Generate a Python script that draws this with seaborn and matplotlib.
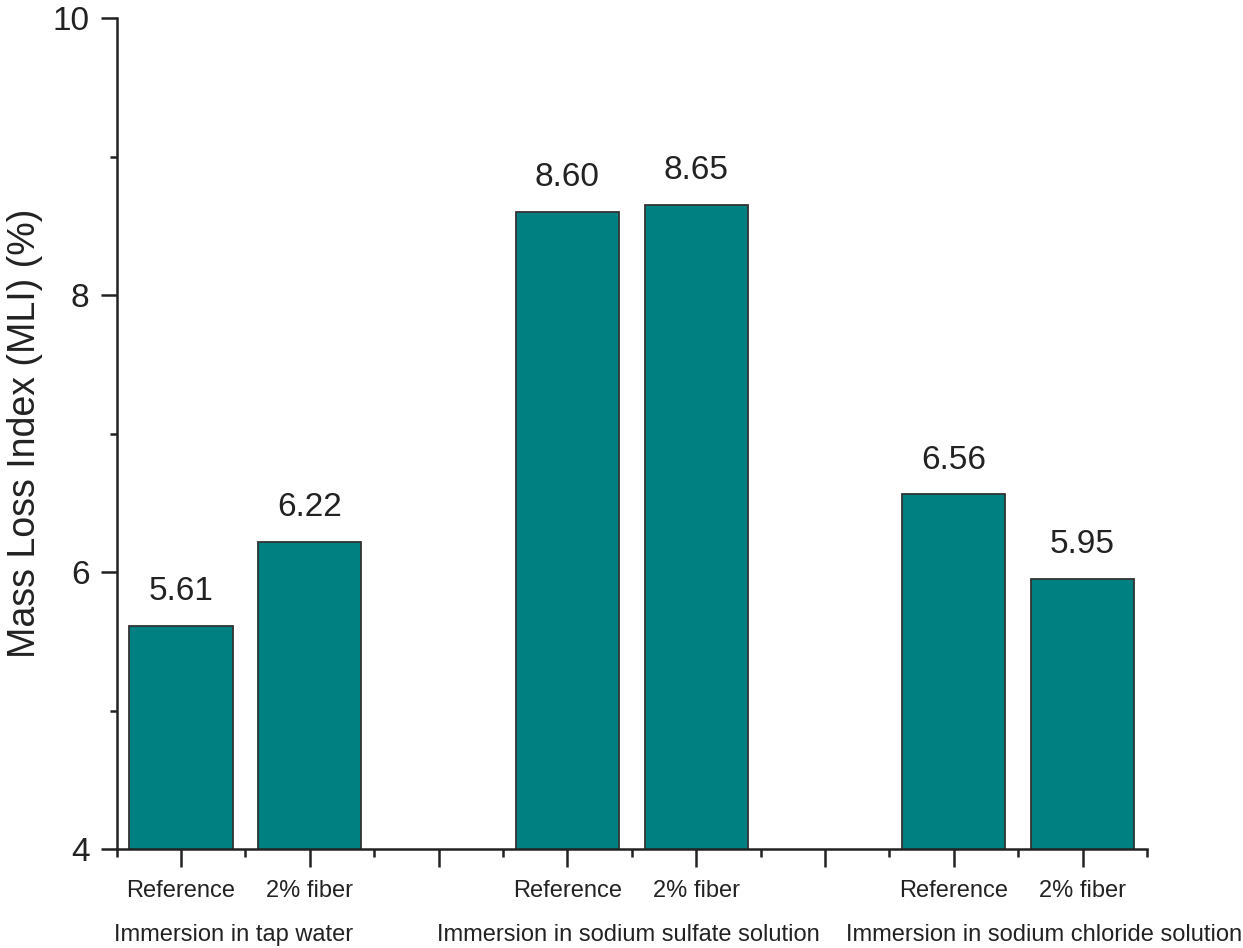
import matplotlib
matplotlib.use("Agg")
import matplotlib.pyplot as plt
import seaborn as sns
import pandas as pd
from matplotlib.ticker import MultipleLocator

groups = ["Immersion in tap water", "Immersion in sodium sulfate solution",
          "Immersion in sodium chloride solution"]
mixes = ["Reference", "2% fiber"]
mli_values = [5.61, 6.22, 8.60, 8.65, 6.56, 5.95]
value_labels = ["5.61", "6.22", "8.60", "8.65", "6.56", "5.95"]

# slot keys (with empty gap slots between groups)
slot_keys = ["g0_ref", "g0_fib", "gap0", "g1_ref", "g1_fib", "gap1", "g2_ref", "g2_fib"]
bar_keys = ["g0_ref", "g0_fib", "g1_ref", "g1_fib", "g2_ref", "g2_fib"]
slot_labels = ["Reference", "2% fiber", "", "Reference", "2% fiber", "", "Reference", "2% fiber"]

df = pd.DataFrame({"slot": bar_keys, "MLI": mli_values})

sns.set_style("white")
plt.rcParams["font.family"] = ["Liberation Sans", "DejaVu Sans"]

fig = plt.figure(figsize=(12.43, 9.48), dpi=100)
ax = fig.add_axes([0.0938, 0.1044, 0.829, 0.8766])

sns.barplot(data=df, x="slot", y="MLI", order=slot_keys, color="#008080",
            saturation=1, width=0.8, edgecolor="#333333", linewidth=1.3, ax=ax)

ax.set_xlim(-0.5, 7.5)
ax.set_ylim(4, 10)

# value labels
for key, v, lab in zip(bar_keys, mli_values, value_labels):
    xpos = slot_keys.index(key)
    ax.annotate(lab, (xpos, v), xytext=(0, 18.5), textcoords="offset points",
                ha="center", va="baseline", fontsize=24, color="#222222")

# axes styling
for s in ["top", "right"]:
    ax.spines[s].set_visible(False)
for s in ["left", "bottom"]:
    ax.spines[s].set_color("#222222")
    ax.spines[s].set_linewidth(1.8)

ax.yaxis.set_major_locator(MultipleLocator(2))
ax.yaxis.set_minor_locator(MultipleLocator(1))
ax.tick_params(axis="y", which="major", direction="out", length=11.5, width=1.8,
               labelsize=24, pad=8, colors="#222222", left=True)
ax.tick_params(axis="y", which="minor", direction="out", length=5, width=1.8,
               colors="#222222", left=True)

ax.set_xticks(range(len(slot_keys)))
ax.set_xticklabels(slot_labels)
ax.set_xticks([i + 0.5 for i in range(-1, len(slot_keys))], minor=True)
ax.tick_params(axis="x", which="major", direction="out", length=13, width=1.8,
               labelsize=17, pad=9, colors="#222222", bottom=True)
ax.tick_params(axis="x", which="minor", direction="out", length=6, width=1.8,
               colors="#222222", bottom=True)

ax.set_xlabel("")
ax.set_ylabel("Mass Loss Index (MLI) (%)", fontsize=27, color="#222222", labelpad=7)

# group labels below tick labels
group_pos = [0.41, 3.47, 6.7]
for g, gx in zip(groups, group_pos):
    ax.text(gx, -0.103, g, transform=ax.get_xaxis_transform(), ha="center",
            va="center", fontsize=17, color="#222222")

fig.savefig("out.png", dpi=100, facecolor="white")
